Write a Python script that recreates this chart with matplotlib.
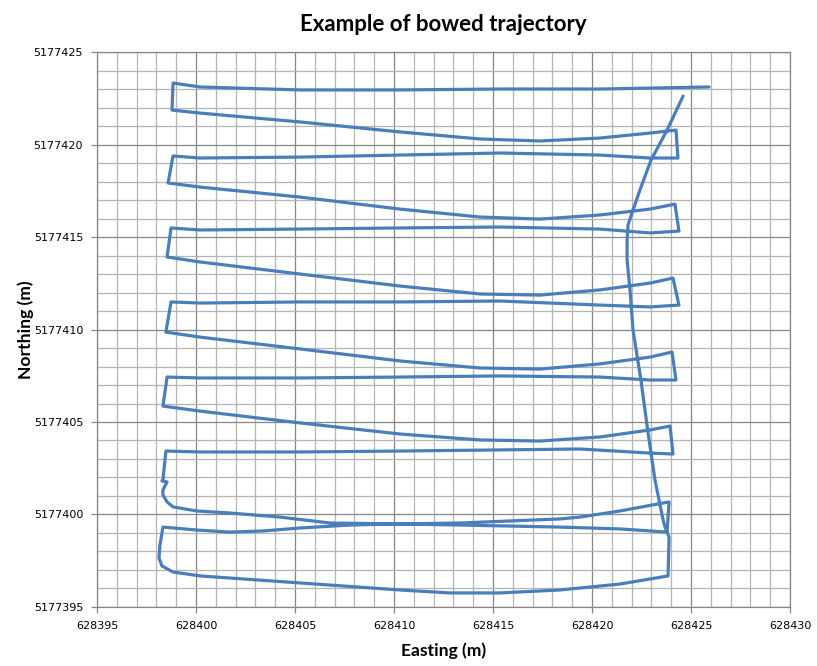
import matplotlib.pyplot as plt
from matplotlib.ticker import MultipleLocator, FuncFormatter

# GPS trajectory (m) in drawing order
easting = [
    # top pass, westward
    628425.91, 628420.40, 628415.35, 628410.30, 628405.25, 628400.20, 628398.84,
    # bowed pass 1, eastward
    628398.79, 628400.20, 628405.25, 628410.30, 628414.34, 628417.37, 628420.40, 628422.93, 628424.24,
    # straight pass, westward
    628424.34, 628422.93, 628420.40, 628415.35, 628410.30, 628405.25, 628400.20, 628398.84,
    # bowed pass 2
    628398.59, 628400.20, 628405.25, 628410.30, 628414.34, 628417.37, 628420.40, 628422.93, 628424.19,
    # straight pass
    628424.39, 628422.93, 628420.40, 628415.35, 628410.30, 628405.25, 628400.20, 628398.74,
    # bowed pass 3
    628398.54, 628400.20, 628405.25, 628410.30, 628414.34, 628417.37, 628420.40, 628422.93, 628424.09,
    # straight pass
    628424.39, 628422.93, 628420.40, 628415.35, 628410.30, 628405.25, 628400.20, 628398.74,
    # bowed pass 4
    628398.48, 628400.20, 628405.25, 628410.30, 628414.34, 628417.37, 628420.40, 628422.93, 628424.04,
    # straight pass
    628424.24, 628422.93, 628420.40, 628415.35, 628410.30, 628405.25, 628400.20, 628398.54,
    # bowed pass 5
    628398.33, 628400.20, 628405.25, 628410.30, 628414.34, 628417.37, 628420.40, 628422.93, 628423.94,
    # straight pass
    628424.09, 628422.93, 628419.39, 628415.35, 628410.30, 628405.25, 628400.20, 628398.48,
    # wiggle at the west end, then eastward
    628398.33, 628398.28, 628398.54, 628398.43, 628398.33, 628398.33, 628398.54, 628398.84,
    628400.05, 628401.72, 628404.24, 628406.77,
    628410.30, 628413.33, 628418.38, 628421.41, 628423.79,
    # turn and westward
    628423.89, 628421.41, 628419.39, 628418.38, 628413.33, 628410.30, 628407.78,
    628405.25, 628403.38, 628401.72, 628400.05, 628398.33,
    # bottom pass, eastward
    628398.18, 628398.13, 628398.28, 628398.84, 628400.20, 628405.25, 628410.30,
    628412.83, 628415.35, 628418.38, 628421.41, 628423.84,
    # return leg, northward
    628423.89, 628423.69, 628423.59, 628423.18, 628422.83, 628422.47, 628422.07,
    628421.92, 628421.77, 628421.77, 628421.82, 628422.07, 628422.42, 628422.98,
    628423.79, 628424.60,
]
northing = [
    5177423.11, 5177423.00, 5177423.00, 5177422.95, 5177422.95, 5177423.11, 5177423.32,
    5177421.86, 5177421.70, 5177421.22, 5177420.68, 5177420.30, 5177420.19, 5177420.35, 5177420.62, 5177420.78,
    5177419.27, 5177419.27, 5177419.43, 5177419.54, 5177419.43, 5177419.32, 5177419.27, 5177419.38,
    5177417.92, 5177417.70, 5177417.16, 5177416.51, 5177416.08, 5177415.97, 5177416.19, 5177416.51, 5177416.78,
    5177415.32, 5177415.22, 5177415.43, 5177415.54, 5177415.49, 5177415.43, 5177415.38, 5177415.49,
    5177413.92, 5177413.65, 5177413.00, 5177412.35, 5177411.92, 5177411.86, 5177412.14, 5177412.51, 5177412.78,
    5177411.32, 5177411.22, 5177411.32, 5177411.54, 5177411.49, 5177411.49, 5177411.43, 5177411.49,
    5177409.86, 5177409.59, 5177408.95, 5177408.30, 5177407.92, 5177407.86, 5177408.14, 5177408.51, 5177408.78,
    5177407.27, 5177407.27, 5177407.43, 5177407.49, 5177407.43, 5177407.38, 5177407.38, 5177407.43,
    5177405.86, 5177405.59, 5177404.95, 5177404.35, 5177404.03, 5177403.97, 5177404.19, 5177404.57, 5177404.78,
    5177403.27, 5177403.32, 5177403.54, 5177403.49, 5177403.43, 5177403.38, 5177403.38, 5177403.43,
    5177401.86, 5177401.81, 5177401.76, 5177401.54, 5177401.32, 5177401.05, 5177400.68, 5177400.41,
    5177400.19, 5177400.08, 5177399.86, 5177399.54,
    5177399.49, 5177399.43, 5177399.32, 5177399.22, 5177399.05,
    5177400.68, 5177400.19, 5177399.86, 5177399.76, 5177399.54, 5177399.49, 5177399.43,
    5177399.27, 5177399.11, 5177399.05, 5177399.16, 5177399.32,
    5177398.35, 5177397.65, 5177397.22, 5177396.89, 5177396.68, 5177396.30, 5177395.92,
    5177395.76, 5177395.76, 5177395.92, 5177396.24, 5177396.68,
    5177398.78, 5177399.32, 5177399.70, 5177401.86, 5177404.41, 5177407.27, 5177409.97,
    5177412.14, 5177413.76, 5177414.84, 5177415.65, 5177416.46, 5177417.54, 5177419.16,
    5177420.78, 5177422.62,
]

title = "Example of bowed trajectory"
xlabel = "Easting (m)"
ylabel = "Northing (m)"

fig = plt.figure(figsize=(8.17, 6.66), dpi=100)
ax = fig.add_axes([0.1187, 0.0886, 0.8483, 0.8333])

ax.plot(easting, northing, color='#4A7EBB', lw=2.3, zorder=3,
        solid_joinstyle='round', solid_capstyle='round')

ax.set_xlim(628395, 628430)
ax.set_ylim(5177395, 5177425)

ax.xaxis.set_major_locator(MultipleLocator(5))
ax.xaxis.set_minor_locator(MultipleLocator(1))
ax.yaxis.set_major_locator(MultipleLocator(5))
ax.yaxis.set_minor_locator(MultipleLocator(1))
fmt = FuncFormatter(lambda v, p: f"{v:.0f}")
ax.xaxis.set_major_formatter(fmt)
ax.yaxis.set_major_formatter(fmt)

# Excel-like gridlines
ax.grid(which='minor', color='#B4B4B4', lw=0.9, zorder=0)
ax.grid(which='major', color='#868686', lw=0.9, zorder=1)
ax.set_axisbelow(True)

ax.tick_params(which='major', length=4, width=0.9, color='#868686',
               labelsize=8, pad=6)
ax.tick_params(which='minor', length=0)
for s in ax.spines.values():
    s.set_color('#868686')
    s.set_linewidth(0.9)

ax.set_title(title, fontsize=16, fontweight='bold', family='Lato', pad=15)
ax.set_xlabel(xlabel, fontsize=12.6, fontweight='bold', family='Lato', labelpad=8)
ax.set_ylabel(ylabel, fontsize=12.6, fontweight='bold', family='Lato', labelpad=0)

fig.savefig('out.png', dpi=100)
